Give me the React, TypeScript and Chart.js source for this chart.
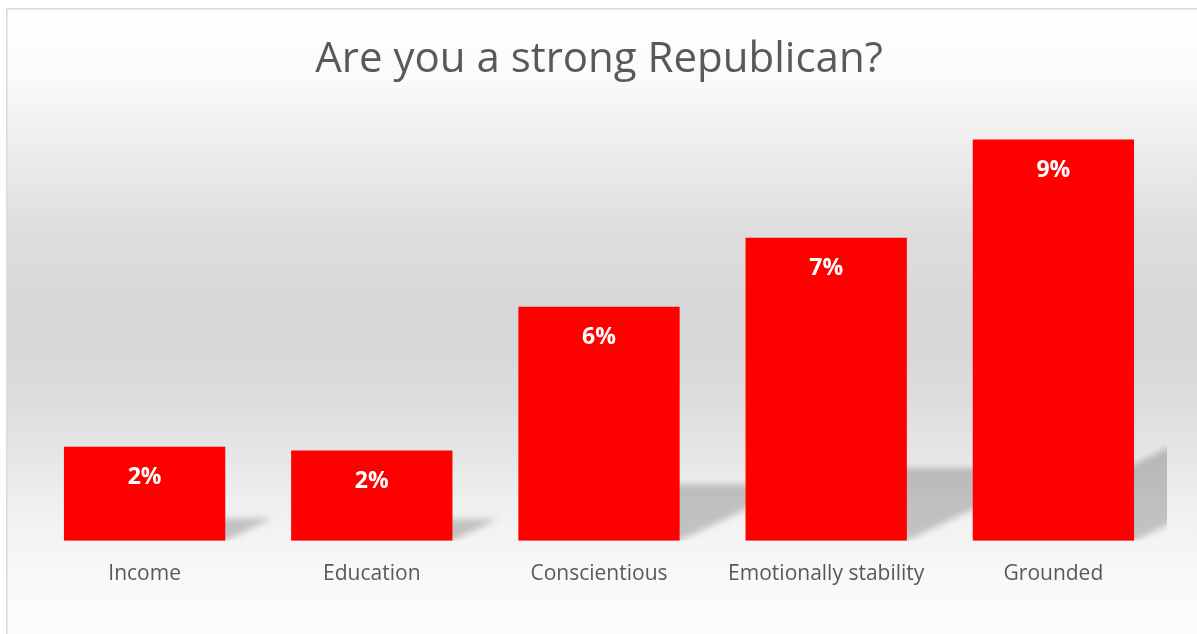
import { useEffect, useRef } from "react";
import { Chart, registerables } from "chart.js";

Chart.register(...registerables);

const TITLE = "Are you a strong Republican?";
const categories = ["Income", "Education", "Conscientious", "Emotionally stability", "Grounded"];
const values = [2.22, 2.13, 5.53, 7.16, 9.48];
const yRange = { min: 0, max: 10 };

const W = 1197;
const H = 634;
const FONT = "'Open Sans', 'Noto Sans', sans-serif";
const BAR_COLOR = "#FF0000";
const TEXT_GRAY = "#595959";

const bgStops: [number, string][] = [
  [0, "#ffffff"],
  [40, "#fdfdfd"],
  [80, "#fafafa"],
  [120, "#f2f2f2"],
  [170, "#e9e9e9"],
  [230, "#dedede"],
  [300, "#d8d8d8"],
  [350, "#d8d8d8"],
  [400, "#dddddd"],
  [450, "#e5e5e5"],
  [500, "#efefef"],
  [540, "#f4f4f4"],
  [580, "#f9f9f9"],
  [634, "#fcfcfc"],
];

const backgroundPlugin = {
  id: "bgPlugin",
  beforeDraw(chart: any) {
    const ctx = chart.ctx as CanvasRenderingContext2D;
    ctx.save();
    ctx.fillStyle = "#ffffff";
    ctx.fillRect(0, 0, W, H);
    const g = ctx.createLinearGradient(0, 0, 0, H);
    bgStops.forEach(([p, c]) => g.addColorStop(p / H, c));
    ctx.fillStyle = g;
    ctx.fillRect(7, 9, W, H);
    ctx.fillStyle = "#dcdcdc";
    ctx.fillRect(6, 8, 1.6, H);
    ctx.fillRect(6, 8, W, 1.6);
    ctx.restore();
  },
};

const shadowPlugin = {
  id: "shadowPlugin",
  beforeDatasetsDraw(chart: any) {
    const ctx = chart.ctx as CanvasRenderingContext2D;
    const area = chart.chartArea;
    const meta = chart.getDatasetMeta(0);
    ctx.save();
    ctx.beginPath();
    ctx.rect(area.left, area.top, area.right - area.left, area.bottom - area.top);
    ctx.clip();
    ctx.filter = "blur(3px)";
    ctx.fillStyle = "rgba(0,0,0,0.2)";
    meta.data.forEach((el: any) => {
      const { x, y, base, width } = el.getProps(["x", "y", "base", "width"], true);
      const L = x - width / 2;
      const R = x + width / 2;
      const h = (base - y) * 0.24;
      const dx = h * 2.1;
      ctx.beginPath();
      ctx.moveTo(L, base);
      ctx.lineTo(R, base);
      ctx.lineTo(R + dx, base - h);
      ctx.lineTo(L + dx, base - h);
      ctx.closePath();
      ctx.fill();
    });
    ctx.restore();
  },
};

const labelPlugin = {
  id: "labelPlugin",
  afterDatasetsDraw(chart: any) {
    const ctx = chart.ctx as CanvasRenderingContext2D;
    const meta = chart.getDatasetMeta(0);
    ctx.save();
    ctx.fillStyle = "#ffffff";
    ctx.font = `bold 23px ${FONT}`;
    ctx.textAlign = "center";
    ctx.textBaseline = "middle";
    meta.data.forEach((el: any, i: number) => {
      const { x, y } = el.getProps(["x", "y"], true);
      ctx.fillText(`${Math.round(values[i])}%`, x, y + 31);
    });
    ctx.restore();
  },
};

export default function App() {
  const ref = useRef<HTMLCanvasElement | null>(null);

  useEffect(() => {
    if (!ref.current) return;
    const chart = new Chart(ref.current, {
      type: "bar",
      data: {
        labels: categories,
        datasets: [
          {
            data: values,
            backgroundColor: BAR_COLOR,
            borderWidth: 0,
            barPercentage: 0.71,
            categoryPercentage: 1,
          },
        ],
      },
      options: {
        responsive: false,
        animation: false,
        layout: { padding: { left: 31, right: 30, top: 0, bottom: 26 } },
        plugins: {
          legend: { display: false },
          tooltip: { enabled: false },
          title: {
            display: true,
            text: TITLE,
            color: TEXT_GRAY,
            font: { family: FONT, size: 42, weight: "normal" },
            padding: { top: 35, bottom: 32 },
          },
        },
        scales: {
          x: {
            grid: { display: false, drawTicks: false },
            border: { display: false },
            ticks: {
              color: TEXT_GRAY,
              font: { family: FONT, size: 21 },
              padding: 21,
              maxRotation: 0,
              autoSkip: false,
            },
          },
          y: {
            display: false,
            min: yRange.min,
            max: yRange.max,
          },
        },
      },
      plugins: [backgroundPlugin, shadowPlugin, labelPlugin],
    });
    return () => chart.destroy();
  }, []);

  return (
    <div style={{ position: "fixed", left: 0, top: 0, width: W, height: H }}>
      <canvas ref={ref} width={W} height={H} style={{ display: "block" }} />
    </div>
  );
}
